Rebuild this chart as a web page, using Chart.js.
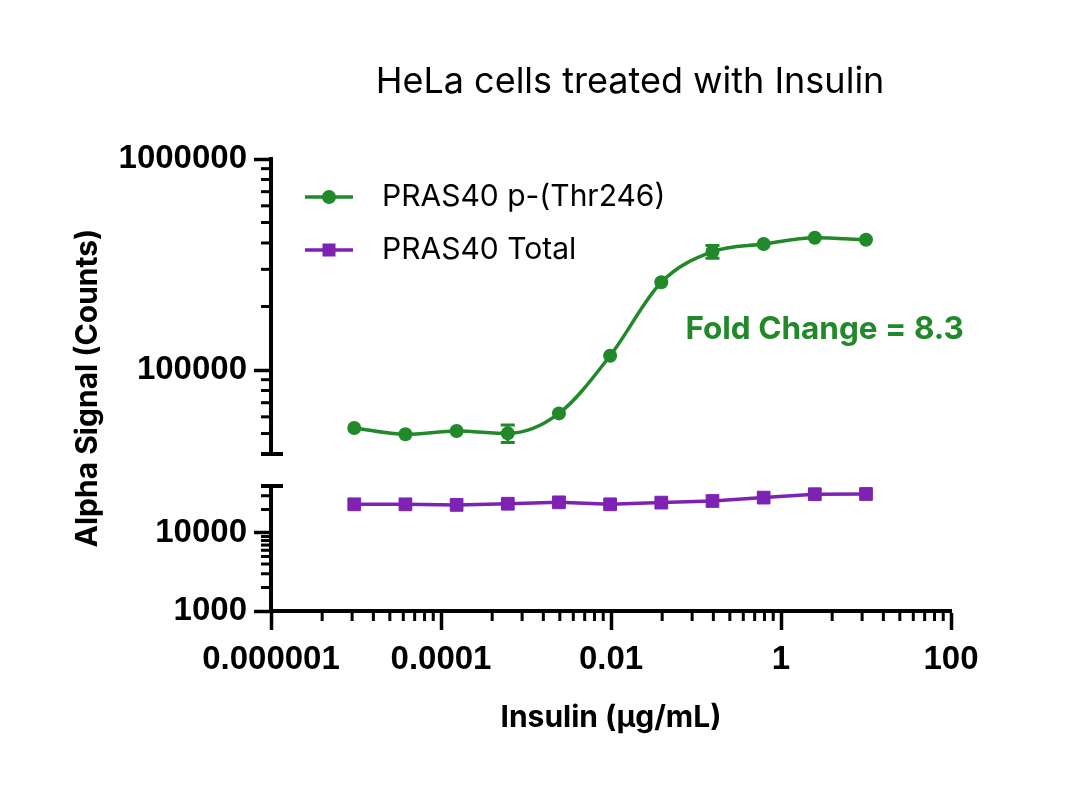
<!DOCTYPE html>
<html>
<head>
<meta charset="utf-8">
<title>HeLa cells treated with Insulin</title>
<script src="https://cdn.jsdelivr.net/npm/chart.js@4.4.1/dist/chart.umd.min.js"></script>
<style>
  html, body { margin: 0; padding: 0; background: #fff; }
  canvas { display: block; }
</style>
</head>
<body>
<canvas id="chart" width="1080" height="795"></canvas>
<script>
// insulin doses, 4-fold serial dilution from 10 ug/mL
const insulinDoses = [0.00000953674, 0.0000381470, 0.000152588, 0.000610352, 0.00244141, 0.00976563, 0.0390625, 0.15625, 0.625, 2.5, 10];
const phosphoSignal = [53100, 49600, 51400, 50100, 62300, 116900, 260400, 363700, 395600, 423600, 414500];
const phosphoError = [0, 0, 0, 4800, 0, 0, 0, 25000, 0, 0, 0];
const totalSignal = [23300, 23300, 22900, 23700, 24700, 23300, 24500, 25700, 28400, 31400, 31600];
const seriesNames = ['PRAS40 p-(Thr246)', 'PRAS40 Total'];

const xTicks = [0.000001, 0.0001, 0.01, 1, 100];
const xTickLabels = ['0.000001', '0.0001', '0.01', '1', '100'];
const yUpperTicks = [100000, 1000000];
const yUpperLabels = ['100000', '1000000'];
const yLowerTicks = [1000, 10000];
const yLowerLabels = ['1000', '10000'];
const yUpperMinor = [50000, 60000, 70000, 80000, 90000, 200000, 300000, 400000, 500000, 600000, 700000, 800000, 900000];
const yLowerMinor = [2000, 3000, 4000, 5000, 6000, 7000, 8000, 9000, 20000, 30000];
const yBreak = 40000;
const foldChange = 8.3;

const GREEN = '#22892b';
const PURPLE = '#7e22b4';
const TICK_FONT = "'Liberation Sans', Arial, sans-serif";
const TEXT_FONT = "Inter, 'Noto Sans', sans-serif";

Chart.defaults.color = '#000';

// error bars for the phospho series
const errorBars = {
    id: 'errorBars',
    beforeDatasetsDraw(chart) {
        const { ctx, scales } = chart;
        const x = scales.x;
        const y = scales.yUpper;
        ctx.save();
        ctx.strokeStyle = GREEN;
        ctx.lineWidth = 3;
        phosphoError.forEach((err, i) => {
            if (!err) return;
            const px = x.getPixelForValue(insulinDoses[i]);
            const top = y.getPixelForValue(phosphoSignal[i] + err);
            const bot = y.getPixelForValue(phosphoSignal[i] - err);
            ctx.beginPath();
            ctx.moveTo(px, top); ctx.lineTo(px, bot);
            ctx.moveTo(px - 7, top); ctx.lineTo(px + 7, top);
            ctx.moveTo(px - 7, bot); ctx.lineTo(px + 7, bot);
            ctx.stroke();
        });
        ctx.restore();
    }
};

// minor ticks, axis break caps, titles, legend and annotation
const decor = {
    id: 'decor',
    afterDraw(chart) {
        const { ctx, chartArea, scales: { x, yUpper, yLower } } = chart;
        ctx.save();
        ctx.strokeStyle = '#000';
        ctx.lineWidth = 3;

        const seg = (x1, y1, x2, y2) => {
            ctx.beginPath(); ctx.moveTo(x1, y1); ctx.lineTo(x2, y2); ctx.stroke();
        };

        // x minor ticks (Prism style, k^2 spacing over 2 decades)
        xTicks.slice(0, -1).forEach(m => {
            for (let k = 2; k <= 9; k++) {
                const px = x.getPixelForValue(m * k * k);
                seg(px, x.top, px, x.top + 10);
            }
        });

        yUpperMinor.forEach(v => {
            const py = yUpper.getPixelForValue(v);
            seg(yUpper.right - 10, py, yUpper.right, py);
        });
        yLowerMinor.forEach(v => {
            const py = yLower.getPixelForValue(v);
            seg(yLower.right - 10, py, yLower.right, py);
        });

        // break caps
        ctx.lineWidth = 4;
        const capUp = yUpper.getPixelForValue(yBreak);
        const capLow = yLower.getPixelForValue(yBreak);
        seg(yUpper.right - 10, capUp, yUpper.right + 12, capUp);
        seg(yLower.right - 10, capLow, yLower.right + 12, capLow);

        // chart title
        ctx.fillStyle = '#000';
        ctx.textBaseline = 'middle';
        ctx.textAlign = 'center';
        ctx.font = `400 36px ${TEXT_FONT}`;
        ctx.fillText('HeLa cells treated with Insulin', 630, 82);

        // y axis title
        ctx.save();
        ctx.translate(88, (chartArea.top + chartArea.bottom) / 2 + 3);
        ctx.rotate(-Math.PI / 2);
        ctx.font = `700 30px ${TEXT_FONT}`;
        ctx.fillText('Alpha Signal (Counts)', 0, 0);
        ctx.restore();

        // fold change
        ctx.fillStyle = GREEN;
        ctx.textAlign = 'left';
        ctx.font = `700 31.5px ${TEXT_FONT}`;
        ctx.fillText(`Fold Change = ${foldChange}`, x.getPixelForValue(0.075), yUpper.getPixelForValue(155000));

        // legend
        const rows = [
            { text: seriesNames[0], color: GREEN, style: 'circle' },
            { text: seriesNames[1], color: PURPLE, style: 'rect' }
        ];
        rows.forEach((r, i) => {
            const ly = chartArea.top + 38 + i * 53;
            const lx = chartArea.left + 34;
            ctx.strokeStyle = r.color;
            ctx.fillStyle = r.color;
            ctx.lineWidth = 3.5;
            seg(lx, ly, lx + 48, ly);
            if (r.style === 'circle') {
                ctx.beginPath(); ctx.arc(lx + 24, ly, 7, 0, Math.PI * 2); ctx.fill();
            } else {
                ctx.fillRect(lx + 24 - 6.5, ly - 6.5, 13, 13);
            }
            ctx.fillStyle = '#000';
            ctx.font = `400 30px ${TEXT_FONT}`;
            ctx.fillText(r.text, chartArea.left + 111, ly);
        });
        ctx.restore();
    }
};

const tickFont = { family: TICK_FONT, size: 33, weight: 'bold' };

new Chart(document.getElementById('chart'), {
    type: 'line',
    data: {
        datasets: [
            {
                label: seriesNames[0],
                data: insulinDoses.map((d, i) => ({ x: d, y: phosphoSignal[i] })),
                yAxisID: 'yUpper',
                borderColor: GREEN,
                backgroundColor: GREEN,
                borderWidth: 3.5,
                pointRadius: 7,
                pointBorderWidth: 0,
                pointStyle: 'circle',
                cubicInterpolationMode: 'monotone'
            },
            {
                label: seriesNames[1],
                data: insulinDoses.map((d, i) => ({ x: d, y: totalSignal[i] })),
                yAxisID: 'yLower',
                borderColor: PURPLE,
                backgroundColor: PURPLE,
                borderWidth: 3.5,
                pointRadius: 9,
                pointBorderWidth: 1,
                pointStyle: 'rect',
                tension: 0
            }
        ]
    },
    options: {
        responsive: false,
        animation: false,
        layout: { padding: { left: 120, right: 129, top: 159, bottom: 44 } },
        plugins: {
            legend: { display: false },
            tooltip: { enabled: false }
        },
        scales: {
            x: {
                type: 'logarithmic',
                position: 'bottom',
                min: 0.000001,
                max: 100,
                afterBuildTicks: s => { s.ticks = xTicks.map(v => ({ value: v, major: true })); },
                afterFit: s => { s.height = 140; },
                ticks: {
                    autoSkip: false, maxRotation: 0, padding: 10, font: tickFont,
                    callback: (v, i) => xTickLabels[i]
                },
                grid: { drawOnChartArea: false, tickLength: 19, tickWidth: 3.5, tickColor: '#000' },
                border: { color: '#000', width: 4 },
                title: {
                    display: true, text: 'Insulin (µg/mL)', color: '#000',
                    font: { family: TEXT_FONT, size: 30, weight: 'bold' },
                    padding: { top: 0, bottom: 15 }
                }
            },
            yLower: {
                type: 'logarithmic',
                position: 'left',
                stack: 'y', stackWeight: 125, weight: 1,
                min: 1000, max: yBreak,
                afterBuildTicks: s => { s.ticks = yLowerTicks.map(v => ({ value: v, major: true })); },
                afterFit: s => { s.width = 151; },
                ticks: { autoSkip: false, padding: 7, font: tickFont, callback: (v, i) => yLowerLabels[i] },
                grid: { drawOnChartArea: false, tickLength: 17, tickWidth: 3.5, tickColor: '#000' },
                border: { color: '#000', width: 4 }
            },
            yGap: {
                type: 'linear',
                position: 'left',
                stack: 'y', stackWeight: 32, weight: 2,
                min: 0, max: 1,
                ticks: { display: false },
                grid: { display: false, drawTicks: false },
                border: { display: false }
            },
            yUpper: {
                type: 'logarithmic',
                position: 'left',
                stack: 'y', stackWeight: 295, weight: 3,
                min: yBreak, max: 1000000,
                afterBuildTicks: s => { s.ticks = yUpperTicks.map(v => ({ value: v, major: true })); },
                afterFit: s => { s.width = 151; },
                ticks: { autoSkip: false, padding: 7, font: tickFont, callback: (v, i) => yUpperLabels[i] },
                grid: { drawOnChartArea: false, tickLength: 17, tickWidth: 3.5, tickColor: '#000' },
                border: { color: '#000', width: 4 }
            }
        }
    },
    plugins: [errorBars, decor]
});
</script>
</body>
</html>
